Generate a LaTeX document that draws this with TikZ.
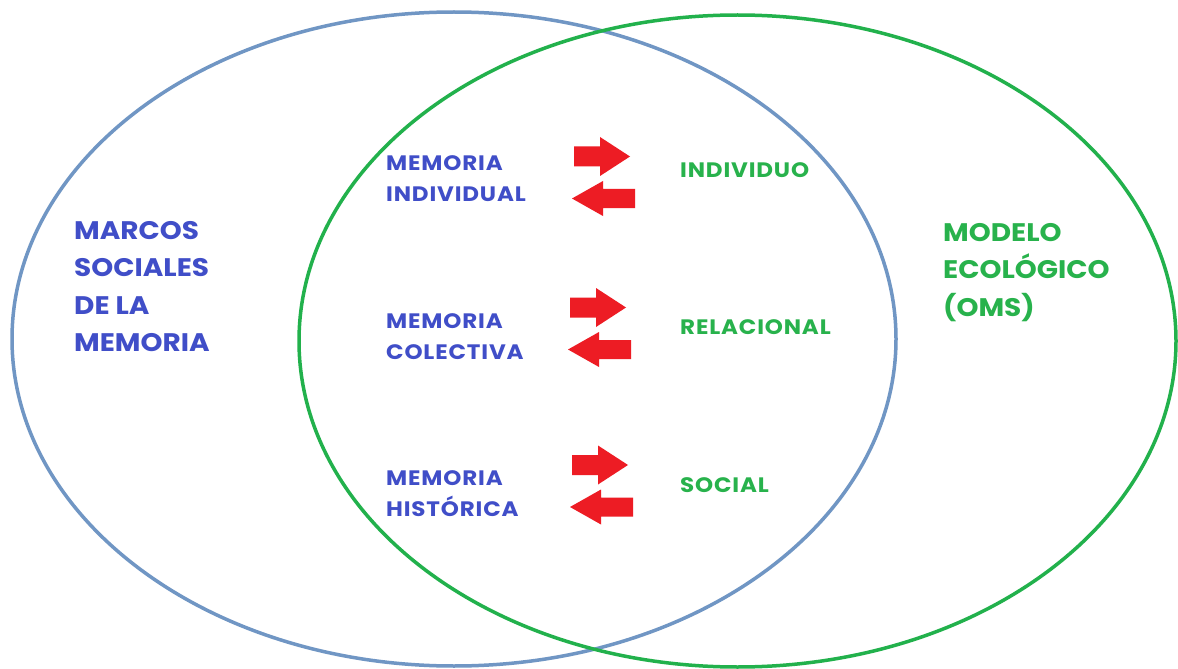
\documentclass[tikz,border=0pt]{standalone}
\usepackage{fontspec}
\setmainfont{Poppins}
\newfontfamily\lblfont[FakeStretch=1.1]{Poppins}
\newfontfamily\smlfont[FakeStretch=1.1,LetterSpace=4]{Poppins}
\definecolor{ellblue}{RGB}{112,150,196}
\definecolor{ellgreen}{RGB}{34,177,76}
\definecolor{txtblue}{RGB}{64,78,200}
\definecolor{txtgreen}{RGB}{40,178,76}
\definecolor{arrred}{RGB}{237,28,36}
\newcommand\RArr[2]{% tail x, centre y
  \fill[arrred] (#1,#2-10) -- (#1+26,#2-10) -- (#1+26,#2-19.5) -- (#1+56,#2)
    -- (#1+26,#2+19.5) -- (#1+26,#2+10) -- (#1,#2+10) -- cycle;}
\newcommand\LArr[2]{% tip x, centre y
  \fill[arrred] (#1,#2) -- (#1+31,#2-17.5) -- (#1+31,#2-9.5) -- (#1+63,#2-9.5)
    -- (#1+63,#2+9.5) -- (#1+31,#2+9.5) -- (#1+31,#2+17.5) -- cycle;}
\begin{document}
\begin{tikzpicture}[x=1bp,y=-1bp,
  ring/.style={line width=3.5bp},
  biglabel/.style={anchor=north west,inner sep=0pt,align=left,
    font=\lblfont\fontsize{25.5}{37.5}\selectfont\bfseries},
  smalllabel/.style={anchor=north west,inner sep=0pt,align=left,
    font=\smlfont\fontsize{21}{32}\selectfont\bfseries}]
\useasboundingbox[fill=white] (0,0) rectangle (1178,669);
\draw[ring,ellblue] (454,339) ellipse [x radius=442,y radius=327];
\draw[ring,ellgreen] (737.5,341) ellipse [x radius=438.5,y radius=326];
\node[biglabel,text=txtblue] (marcos) at (74,221) {MARCOS\\SOCIALES\\DE LA\\MEMORIA};
\node[biglabel,text=txtgreen] (modelo) at (943,223) {MODELO\\ECOLÓGICO\\(OMS)};
\node[smalllabel,text=txtblue] (mind) at (386,155) {MEMORIA\\INDIVIDUAL};
\node[smalllabel,text=txtblue] (mcol) at (386,313) {MEMORIA\\COLECTIVA};
\node[smalllabel,text=txtblue] (mhis) at (386,470) {MEMORIA\\HISTÓRICA};
\node[smalllabel,text=txtgreen] (indiv) at (680,162) {INDIVIDUO};
\node[smalllabel,text=txtgreen] (relac) at (680,319) {RELACIONAL};
\node[smalllabel,text=txtgreen] (social) at (680,477) {SOCIAL};
\RArr{574}{156.5}
\LArr{572}{198.5}
\RArr{570}{307.5}
\LArr{568}{349.5}
\RArr{572}{465}
\LArr{570}{507}
\end{tikzpicture}
\end{document}
